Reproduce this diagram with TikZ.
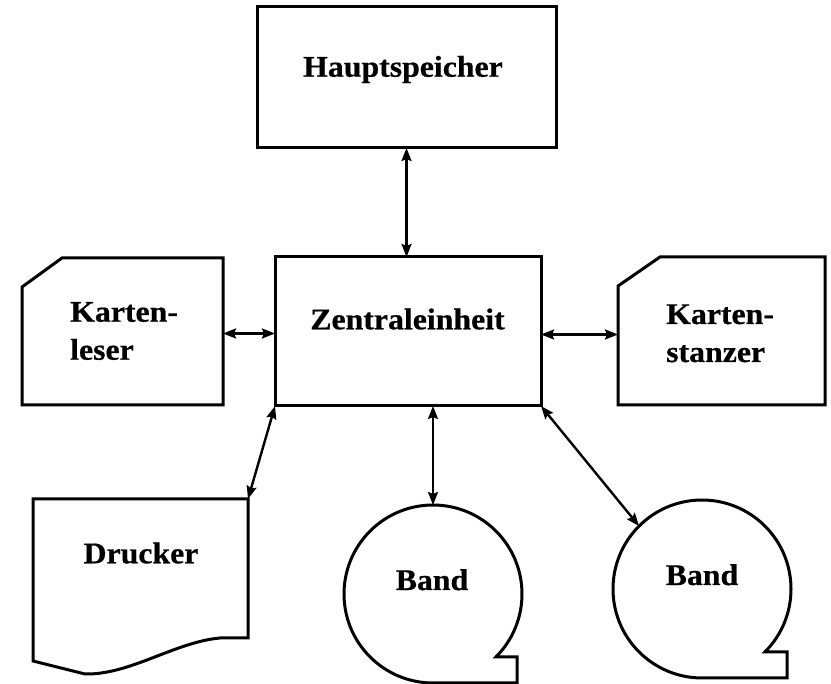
\documentclass[tikz,border=0pt]{standalone}
\usepackage{fontspec}
\setmainfont{Liberation Serif}
\newfontfamily\lblfont{Liberation Serif}[FakeStretch=1.06, FakeBold=0.6]
\usetikzlibrary{arrows.meta,calc}

\begin{document}
\begin{tikzpicture}[x=1pt,y=-1pt,
  frame/.style={draw=black, line width=3pt, line join=miter},
  box/.style={rectangle, inner sep=0pt, outer sep=0pt},
  tape/.style={circle, inner sep=0pt, outer sep=0pt, minimum size=178pt},
  lbl/.style={font=\lblfont\bfseries\fontsize{30}{38}\selectfont, inner sep=0pt},
  link/.style={line width=2.4pt,
    {Stealth[length=13pt,width=10pt,inset=2pt]}-{Stealth[length=13pt,width=10pt,inset=2pt]}},
]
\useasboundingbox (0,0) rectangle (831,684);

% main memory and central unit
\node[box, frame, minimum width=299pt, minimum height=141pt] (hs) at (406.5,77.5) {};
\node[box, frame, minimum width=266pt, minimum height=149pt] (ze) at (408,331.5) {};

% card reader / card punch (cut corner)
\node[box, minimum width=201pt, minimum height=147pt] (kl) at (122.5,331.5) {};
\node[box, minimum width=207pt, minimum height=148pt] (ks) at (721.5,331) {};
\draw[frame] ([yshift=-29pt]kl.north west) -- ([xshift=40pt]kl.north west)
  -- (kl.north east) -- (kl.south east) -- (kl.south west) -- cycle;
\draw[frame] ([yshift=-29pt]ks.north west) -- ([xshift=42pt]ks.north west)
  -- (ks.north east) -- (ks.south east) -- (ks.south west) -- cycle;

% printer (document with wavy edge)
\node[box, minimum width=215pt, minimum height=139pt] (dr) at (140.5,568.5) {};
\draw[frame] ($(dr.south west)+(0,23)$) -- (dr.north west) -- (dr.north east)
  -- (dr.south east) -- ($(dr.south east)+(-28,0)$)
  .. controls ($(dr.south east)+(-73,4)$) and ($(dr.south west)+(97,37)$)
  .. ($(dr.south west)+(52,36)$) -- cycle;

% magnetic tapes
\node[tape] (b1) at (433,594) {};
\node[tape] (b2) at (702,589) {};
\coordinate (t1) at ($(b1.south)+(84,0)$);
\coordinate (t2) at ($(b2.south)+(85,0)$);
\draw[frame] (b1.-45) arc[start angle=-45, end angle=270, radius=89pt]
  -- (t1) -- (t1 |- b1.-45) -- cycle;
\draw[frame] (b2.-45) arc[start angle=-45, end angle=270, radius=89pt]
  -- (t2) -- (t2 |- b2.-45) -- cycle;

% connections
\draw[link] (hs.south) -- (hs.south |- ze.north);
\draw[link] ([yshift=-2pt]kl.east) -- ([yshift=-2pt]kl.east -| ze.west);
\draw[link] ([yshift=-3pt]ze.east) -- ([yshift=-3pt]ze.east -| ks.west);
\draw[link] (dr.north east) -- (ze.south west);
\draw[link] (b1.north |- ze.south) -- (b1.north);
\draw[link] (ze.south east) -- (b2.135);

% labels (multi-line labels are placed by their last baseline)
\node[lbl, anchor=base] (hsT) at (403,76.7) {Hauptspeicher};
\node[lbl, anchor=base] (zeT) at (407.5,329.3) {Zentraleinheit};
\node[lbl, anchor=base west, align=left] (klT) at (70,359.7) {Karten-\\leser};
\node[lbl, anchor=base west, align=left] (ksT) at (666,362) {Karten-\\stanzer};
\node[lbl, anchor=base] (drT) at (141,563.3) {Drucker};
\node[lbl, anchor=base] (b1T) at (432,590) {Band};
\node[lbl, anchor=base] (b2T) at (702,585) {Band};
\end{tikzpicture}
\end{document}
